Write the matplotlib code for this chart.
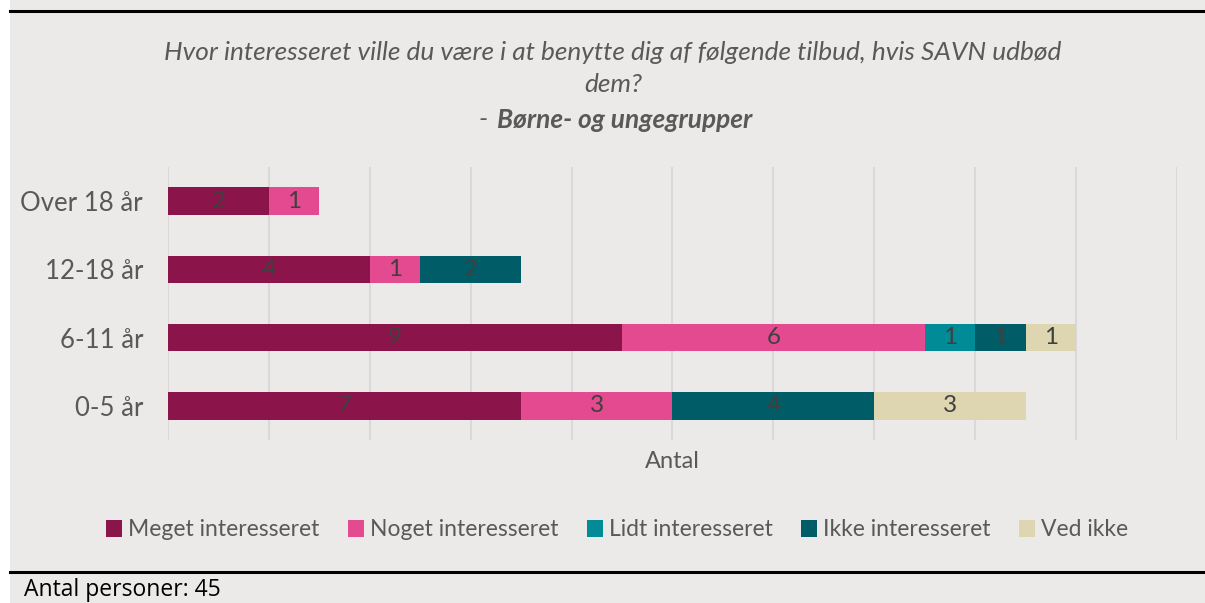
import matplotlib
matplotlib.use("Agg")
import matplotlib.pyplot as plt
from matplotlib.patches import Rectangle
from matplotlib.lines import Line2D
import numpy as np

categories = ["0-5 år", "6-11 år", "12-18 år", "Over 18 år"]
series_names = ["Meget interesseret", "Noget interesseret", "Lidt interesseret",
                "Ikke interesseret", "Ved ikke"]
meget = [7, 9, 4, 2]
noget = [3, 6, 1, 1]
lidt = [0, 1, 0, 0]
ikke = [4, 1, 2, 0]
ved_ikke = [3, 1, 0, 0]
colors = ["#8B154A", "#E34A8F", "#008B96", "#005C66", "#DDD6B0"]

title_line1 = "Hvor interesseret ville du være i at benytte dig af følgende tilbud, hvis SAVN udbød"
title_line2 = "dem?"
title_prefix = "-"
title_bold = "Børne- og ungegrupper"
xlabel = "Antal"
footer = "Antal personer: 45"

FONT = "Lato"
BG = "#ECEAE8"
TXT = "#595959"

W, H = 1205, 603
fig = plt.figure(figsize=(W / 100, H / 100), dpi=100)
fig.patch.set_facecolor(BG)

def fx(px):
    return px / W

def fy(py):
    return 1 - py / H

fig.add_artist(Rectangle((0, 0), fx(10), 1, transform=fig.transFigure,
                         facecolor="white", edgecolor="none", zorder=0))
fig.add_artist(Line2D([fx(10), 1], [fy(11), fy(11)], transform=fig.transFigure,
                      color="black", lw=2.2))
fig.add_artist(Line2D([fx(10), 1], [fy(572), fy(572)], transform=fig.transFigure,
                      color="black", lw=2.2))

ax = fig.add_axes([fx(168), fy(440), fx(1177) - fx(168), fy(167) - fy(440)])
ax.patch.set_alpha(0)

y = np.arange(len(categories))
all_series = [meget, noget, lidt, ikke, ved_ikke]
left = np.zeros(len(categories))
for vals, col, name in zip(all_series, colors, series_names):
    vals = np.array(vals, dtype=float)
    ax.barh(y, vals, left=left, height=0.4, color=col, label=name,
            edgecolor="none", zorder=3)
    for yi, (l, v) in enumerate(zip(left, vals)):
        if v > 0:
            ax.text(l + v / 2, yi, f"{int(v)}", ha="center", va="center",
                    fontsize=17.5, color="#404040", family=FONT, zorder=4)
    left += vals

ax.set_xlim(0, 20)
ax.set_ylim(-0.5, 3.5)
ax.set_xticks(np.arange(0, 21, 2))
ax.xaxis.grid(True, color="#D9D9D9", lw=1.5, zorder=0)
ax.tick_params(axis="x", length=0, labelbottom=False)
ax.tick_params(axis="y", length=0, pad=18)
ax.set_yticks(y)
ax.set_yticklabels(categories, fontsize=18.5, color=TXT, family=FONT)
for s in ax.spines.values():
    s.set_visible(False)

fig.text(fx(672), fy(462), xlabel, ha="center", va="center", fontsize=17,
         color=TXT, family=FONT)

TS = 18.9
fig.text(fx(613), fy(52), title_line1, ha="center", va="center", fontsize=TS,
         style="italic", color=TXT, family=FONT)
fig.text(fx(613), fy(85), title_line2, ha="center", va="center", fontsize=TS,
         style="italic", color=TXT, family=FONT)
fig.text(fx(497), fy(120), title_bold, ha="left", va="center", fontsize=TS,
         style="italic", weight="bold", color=TXT, family=FONT)
fig.text(fx(488), fy(120), title_prefix, ha="right", va="center", fontsize=TS,
         style="italic", color=TXT, family=FONT)

handles = [Rectangle((0, 0), 1, 1, facecolor=c, edgecolor="none") for c in colors]
fig.legend(handles, series_names, loc="center", bbox_to_anchor=(fx(617), fy(530)),
           ncol=5, frameon=False, prop={"family": FONT, "size": 16.5},
           labelcolor=TXT, handlelength=0.7, handleheight=0.7,
           handletextpad=0.25, columnspacing=1.25)

fig.text(fx(24), fy(590), footer, ha="left", va="center", fontsize=16.5,
         color="black", family="Open Sans")

fig.savefig("out.png", dpi=100, facecolor=BG)
